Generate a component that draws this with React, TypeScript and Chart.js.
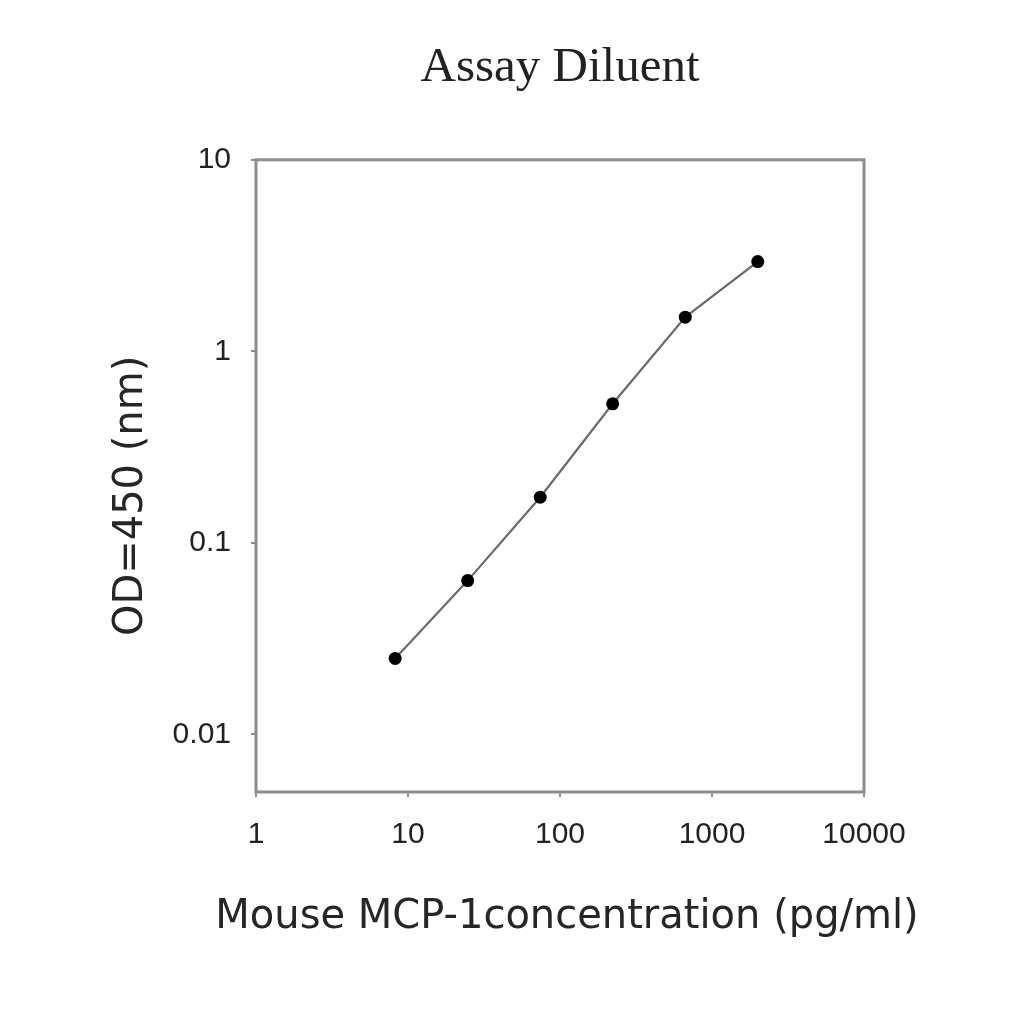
import React, { useEffect, useRef } from "react";
import { Chart, registerables } from "chart.js";

Chart.register(...registerables);

const concentrations = [8.23, 24.7, 74.1, 222, 667, 2000];
const odValues = [0.0249, 0.0635, 0.173, 0.532, 1.508, 2.94];
const xTickValues = [1, 10, 100, 1000, 10000];
const yTickValues = [0.01, 0.1, 1, 10];
const chartTitle = "Assay Diluent";
const xTitle = "Mouse MCP-1concentration (pg/ml)";
const yTitle = "OD=450 (nm)";

const AXIS_GRAY = "#8c8c8c";
const TITLE_FONT = "40px 'DejaVu Sans', 'Liberation Sans', Arial, sans-serif";

const boxPlugin = {
  id: "plotBox",
  beforeDatasetsDraw(chart: any) {
    const { ctx, chartArea } = chart;
    ctx.save();
    ctx.strokeStyle = AXIS_GRAY;
    ctx.lineWidth = 3;
    ctx.strokeRect(chartArea.left, chartArea.top, chartArea.right - chartArea.left, chartArea.bottom - chartArea.top);
    ctx.restore();
  },
  afterDraw(chart: any) {
    const { ctx, chartArea } = chart;
    const cx = (chartArea.left + chartArea.right) / 2;
    const cy = (chartArea.top + chartArea.bottom) / 2;
    ctx.save();
    ctx.fillStyle = "#262626";
    ctx.font = TITLE_FONT;
    ctx.textAlign = "center";
    ctx.textBaseline = "middle";
    // x-axis title, below the tick labels
    ctx.fillText(xTitle, cx + 7, chartArea.bottom + 126);
    // y-axis title, rotated
    ctx.translate(chartArea.left - 124, cy + 20);
    ctx.rotate(-Math.PI / 2);
    ctx.fillText(yTitle, 0, 0);
    ctx.restore();
  },
};

export default function App() {
  const ref = useRef<HTMLCanvasElement | null>(null);

  useEffect(() => {
    if (!ref.current) return;
    const chart = new Chart(ref.current, {
      type: "line",
      data: {
        datasets: [
          {
            data: concentrations.map((x, i) => ({ x, y: odValues[i] })),
            borderColor: "#6a6a6a",
            borderWidth: 2.2,
            pointBackgroundColor: "#000",
            pointBorderColor: "#000",
            pointRadius: 6.5,
            pointBorderWidth: 0,
            tension: 0,
            fill: false,
          },
        ],
      },
      options: {
        animation: false,
        responsive: false,
        devicePixelRatio: 1,
        layout: { padding: { left: 0, right: 160, top: 0, bottom: 0 } },
        plugins: {
          legend: { display: false },
          tooltip: { enabled: false },
          title: {
            display: true,
            text: chartTitle,
            fullSize: false,
            color: "#222",
            font: { family: "'Liberation Serif', 'Times New Roman', serif", size: 49, weight: "normal" },
            padding: { top: 39, bottom: 62 },
          },
        },
        scales: {
          x: {
            type: "logarithmic",
            min: 1,
            max: 10000,
            afterBuildTicks: (scale: any) => {
              scale.ticks = xTickValues.map((v) => ({ value: v }));
            },
            afterFit: (scale: any) => {
              scale.height = 232;
              scale.paddingLeft = 0;
              scale.paddingRight = 0;
            },
            border: { display: false },
            grid: {
              display: true,
              drawOnChartArea: false,
              drawTicks: true,
              tickLength: 5,
              color: AXIS_GRAY,
              lineWidth: 2,
            },
            ticks: {
              autoSkip: false,
              maxRotation: 0,
              padding: 20,
              color: "#222",
              font: { family: "'Liberation Sans', Arial, sans-serif", size: 30 },
              callback: (v: any) => String(v),
            },
            title: { display: false },
          },
          y: {
            type: "logarithmic",
            min: 0.005,
            max: 10,
            afterBuildTicks: (scale: any) => {
              scale.ticks = yTickValues.map((v) => ({ value: v }));
            },
            afterFit: (scale: any) => {
              scale.width = 256;
              scale.paddingTop = 0;
              scale.paddingBottom = 0;
            },
            border: { display: false },
            grid: {
              display: true,
              drawOnChartArea: false,
              drawTicks: true,
              tickLength: 5,
              color: AXIS_GRAY,
              lineWidth: 2,
            },
            ticks: {
              autoSkip: false,
              padding: 20,
              color: "#222",
              font: { family: "'Liberation Sans', Arial, sans-serif", size: 30 },
              callback: (v: any) => String(v),
            },
            title: { display: false },
          },
        },
      },
      plugins: [boxPlugin],
    });
    return () => chart.destroy();
  }, []);

  return (
    <div style={{ position: "fixed", left: 0, top: 0, width: 1024, height: 1024, background: "#fff" }}>
      <canvas ref={ref} width={1024} height={1024} style={{ width: 1024, height: 1024, display: "block" }} />
    </div>
  );
}
